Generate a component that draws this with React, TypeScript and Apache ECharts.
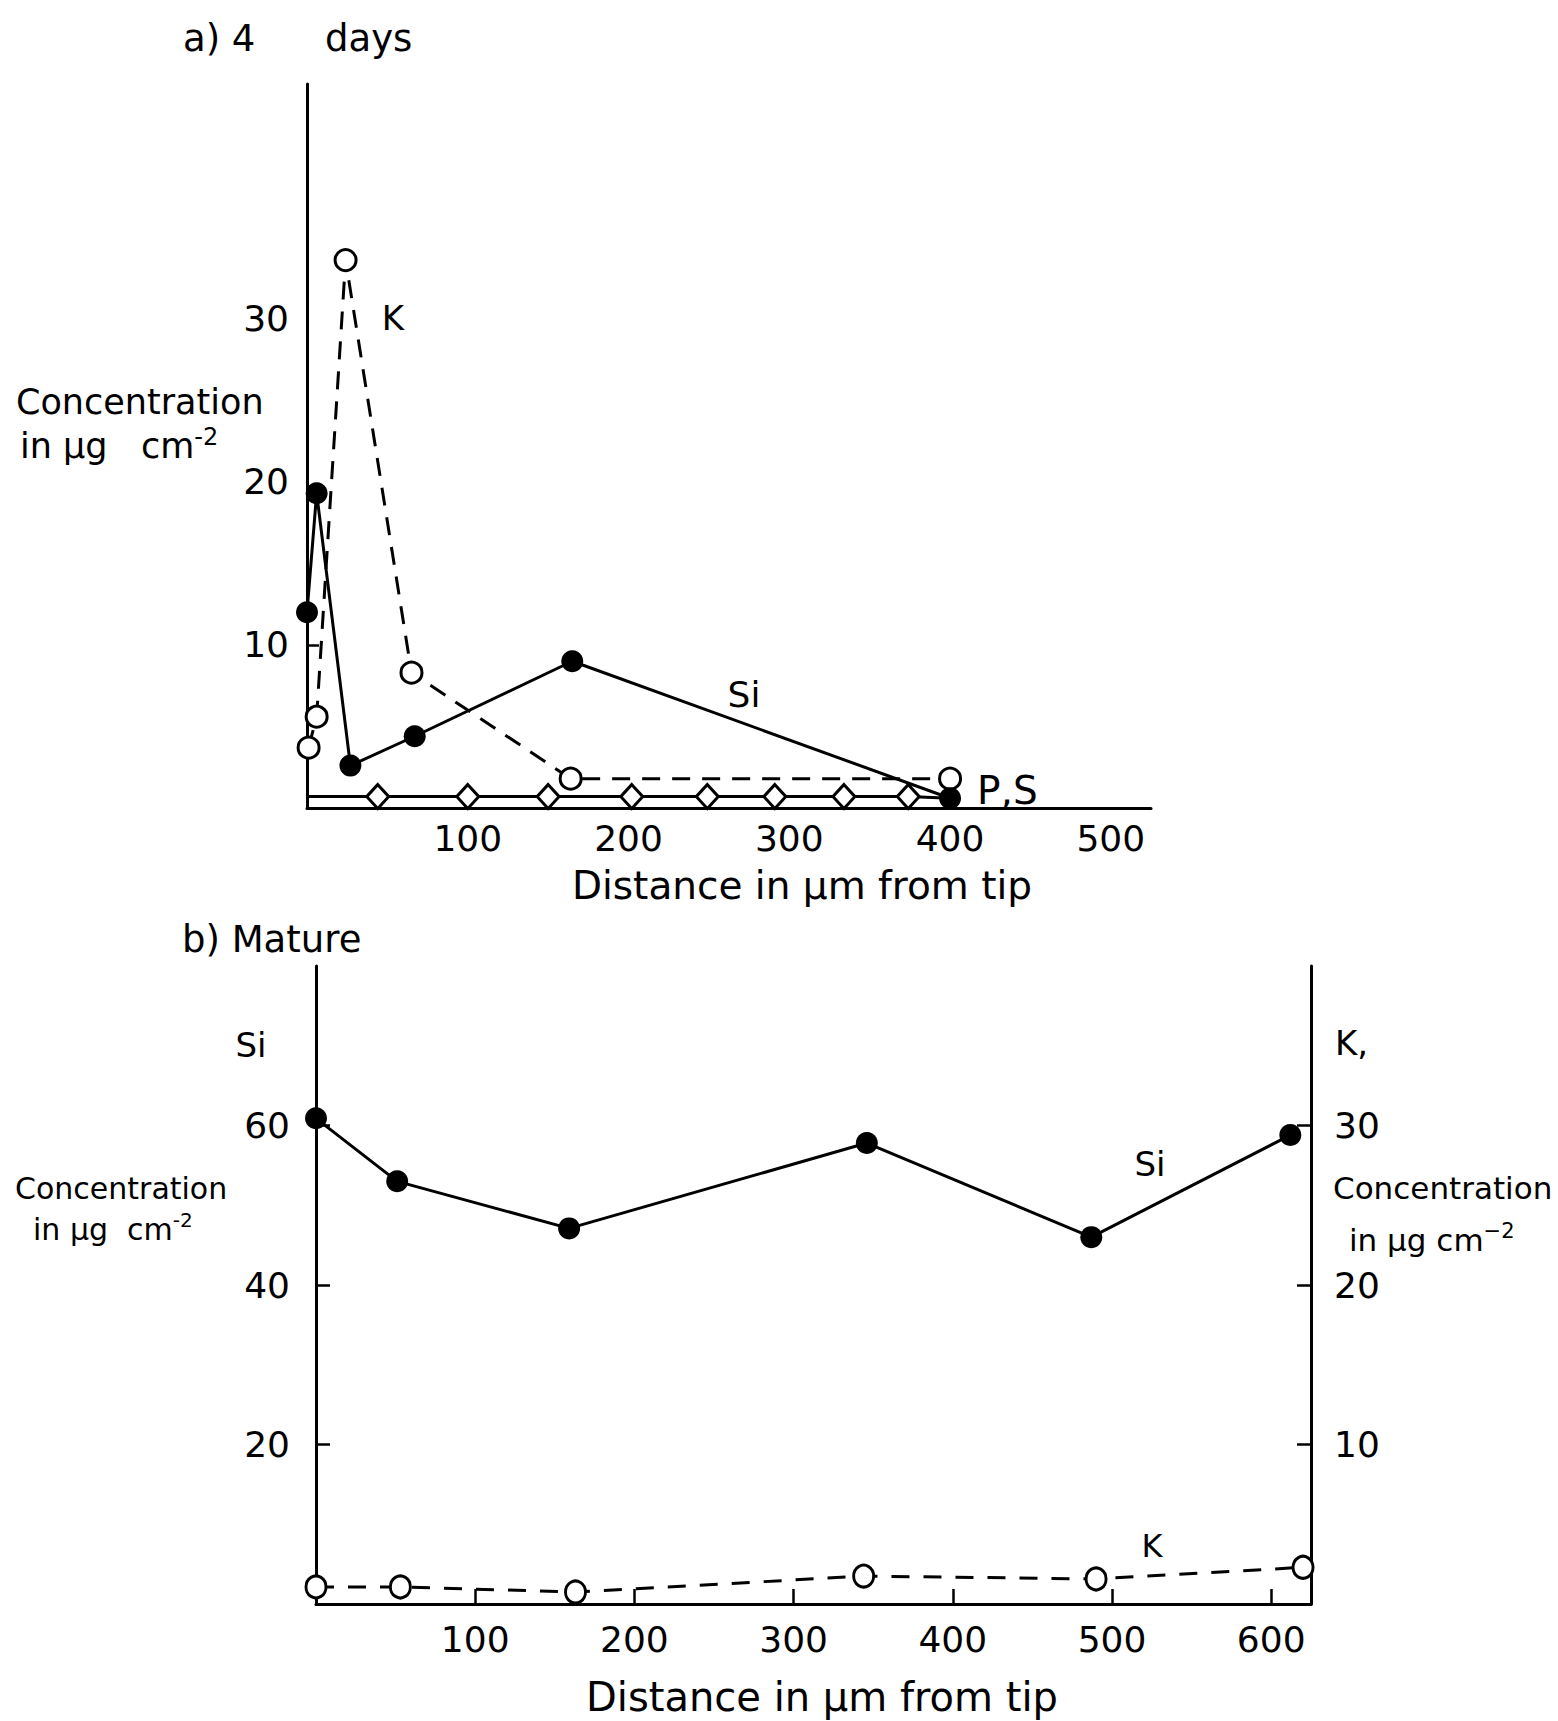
import React, { useEffect, useRef } from "react";
import * as echarts from "echarts";

// ---- Panel a) 4 days ----
const aSi: number[][] = [[0, 12.0], [6, 19.3], [27, 2.6], [67, 4.4], [165, 9.0], [400, 0.6]];
const aK: number[][] = [[1, 3.7], [6, 5.6], [24, 33.6], [65, 8.3], [164, 1.8], [400, 1.8]];
const aPSx: number[] = [44, 100, 150, 202, 249, 291, 334, 374];
const aPSy = 0.7;
const aPSends: number[][] = [[0, 0.7], [400, 0.6]];
const aXTicks = [100, 200, 300, 400, 500];
const aYTicks = [10, 20, 30];
const aYTickMarks = [10];

// ---- Panel b) Mature ----
const bSi: number[][] = [[0, 60.9], [51, 53.0], [159, 47.1], [346, 57.8], [487, 46.0], [612, 58.8]];
const bK: number[][] = [[0, 1.07], [53, 1.07], [163, 0.75], [344, 1.75], [490, 1.57], [620, 2.3]];
const bXTicks = [100, 200, 300, 400, 500, 600];
const bYLeftTicks = [20, 40, 60];
const bYRightTicks = [10, 20, 30];

const FONT = '"DejaVu Sans", sans-serif';
const BLACK = "#000";

function txt(text: string, x: number, y: number, size: number, align = "left", rich?: any) {
  return {
    type: "text",
    x,
    y,
    silent: true,
    style: {
      text,
      fill: BLACK,
      font: `${size}px ${FONT}`,
      fontSize: size,
      fontFamily: FONT,
      textAlign: align,
      textVerticalAlign: "middle",
      rich,
    },
  };
}

// main token tall line box, superscript token small box pinned to the top -> raised
const supRich = (size: number, raise: number) => {
  const supSize = Math.round(size * 0.68);
  const lh = size + 8;
  const supLh = lh - 2 * raise;
  return {
    m: { fontSize: size, fontFamily: FONT, fill: BLACK, color: BLACK, lineHeight: lh, verticalAlign: "middle" },
    sup: { fontSize: supSize, fontFamily: FONT, fill: BLACK, color: BLACK, verticalAlign: "top", lineHeight: supLh },
  };
};

export default function App() {
  const ref = useRef<HTMLDivElement>(null);
  useEffect(() => {
    if (!ref.current) return;
    const chart = echarts.init(ref.current, undefined, { renderer: "svg" });
    const axisLine = { show: true, onZero: false, lineStyle: { color: BLACK, width: 3 } };
    const labelBase = { color: BLACK, fontSize: 36, fontFamily: FONT };
    const psData = [
      { value: aPSends[0], symbol: "none" },
      ...aPSx.map((x) => ({ value: [x, aPSy] })),
      { value: aPSends[1], symbol: "none" },
    ];
    const option: any = {
      animation: false,
      backgroundColor: "#fff",
      grid: [
        { left: 307, top: 84, width: 844, height: 724 },
        { left: 316, top: 966, width: 995, height: 638 },
      ],
      xAxis: [
        {
          type: "value", gridIndex: 0, min: 0, max: 525,
          axisLine, axisTick: { show: false }, splitLine: { show: false },
          axisLabel: { ...labelBase, margin: 12, customValues: aXTicks },
        },
        {
          type: "value", gridIndex: 1, min: 0, max: 625,
          axisLine, splitLine: { show: false },
          axisTick: { show: true, inside: true, length: 15, customValues: bXTicks, lineStyle: { color: BLACK, width: 2.5 } },
          axisLabel: { ...labelBase, margin: 17, customValues: bXTicks },
        },
      ],
      yAxis: [
        {
          type: "value", gridIndex: 0, min: 0, max: 44.4,
          axisLine, splitLine: { show: false },
          axisTick: { show: true, inside: true, length: 12, customValues: aYTickMarks, lineStyle: { color: BLACK, width: 2.5 } },
          axisLabel: { ...labelBase, margin: 18, customValues: aYTicks },
        },
        {
          type: "value", gridIndex: 1, min: 0, max: 80, position: "left",
          axisLine, splitLine: { show: false },
          axisTick: { show: true, inside: true, length: 14, customValues: bYLeftTicks, lineStyle: { color: BLACK, width: 2.5 } },
          axisLabel: { ...labelBase, margin: 26, customValues: bYLeftTicks },
        },
        {
          type: "value", gridIndex: 1, min: 0, max: 40, position: "right",
          axisLine, splitLine: { show: false },
          axisTick: { show: true, inside: true, length: 14, customValues: bYRightTicks, lineStyle: { color: BLACK, width: 2.5 } },
          axisLabel: { ...labelBase, margin: 23, customValues: bYRightTicks },
        },
      ],
      series: [
        {
          name: "a P,S", type: "line", xAxisIndex: 0, yAxisIndex: 0, data: psData,
          symbol: "diamond", symbolSize: [22, 24],
          lineStyle: { color: BLACK, width: 3 },
          itemStyle: { color: "#fff", borderColor: BLACK, borderWidth: 3 },
          z: 3,
        },
        {
          name: "a K", type: "line", xAxisIndex: 0, yAxisIndex: 0, data: aK,
          symbol: "circle", symbolSize: 21,
          lineStyle: { color: BLACK, width: 3, type: [18, 12] },
          itemStyle: { color: "#fff", borderColor: BLACK, borderWidth: 3 },
          z: 4,
        },
        {
          name: "a Si", type: "line", xAxisIndex: 0, yAxisIndex: 0, data: aSi,
          symbol: "circle", symbolSize: 22,
          lineStyle: { color: BLACK, width: 3 },
          itemStyle: { color: BLACK, borderColor: BLACK, borderWidth: 0 },
          z: 5,
        },
        {
          name: "b K", type: "line", xAxisIndex: 1, yAxisIndex: 2, data: bK,
          symbol: "circle", symbolSize: [20, 22],
          lineStyle: { color: BLACK, width: 3, type: [18, 14] },
          itemStyle: { color: "#fff", borderColor: BLACK, borderWidth: 3 },
          z: 4,
        },
        {
          name: "b Si", type: "line", xAxisIndex: 1, yAxisIndex: 1, data: bSi,
          symbol: "circle", symbolSize: 22,
          lineStyle: { color: BLACK, width: 3 },
          itemStyle: { color: BLACK },
          z: 5,
        },
      ],
      graphic: [
        txt("a) 4", 183, 38, 37),
        txt("days", 325, 38, 37),
        txt("Concentration", 16, 402, 35),
        txt("{m|in µg   cm}{sup|-2}", 20, 446, 35, "left", supRich(35, 12)),
        txt("K", 393, 318, 34, "center"),
        txt("Si", 744, 694, 36, "center"),
        txt("P,S", 977, 790, 39),
        txt("Distance in µm from tip", 802, 885, 39, "center"),
        txt("b) Mature", 182, 939, 37),
        txt("Si", 251, 1045, 34, "center"),
        txt("K,", 1335, 1043, 34),
        txt("Concentration", 15, 1188, 30),
        txt("{m|in µg  cm}{sup|-2}", 33, 1229, 30, "left", supRich(30, 10)),
        txt("Concentration", 1333, 1188, 31),
        txt("{m|in µg cm}{sup|−2}", 1349, 1240, 31, "left", supRich(31, 11)),
        txt("Si", 1150, 1164, 34, "center"),
        txt("K", 1152, 1546, 32, "center"),
        txt("Distance in µm from tip", 822, 1697, 40, "center"),
      ],
    };
    chart.setOption(option);
    return () => chart.dispose();
  }, []);
  return (
    <div
      ref={ref}
      style={{ position: "absolute", left: 0, top: 0, width: 1558, height: 1721, background: "#fff" }}
    />
  );
}
